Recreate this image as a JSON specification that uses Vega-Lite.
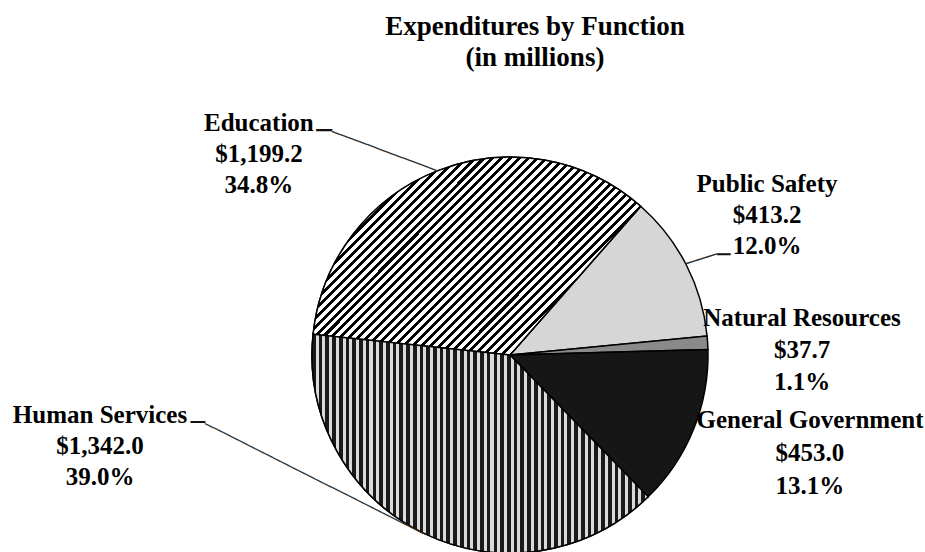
{
  "$schema": "https://vega.github.io/schema/vega-lite/v6.json",
  "autosize": {"type": "none"},
  "padding": {"left": 95, "top": 158, "right": 0, "bottom": 0},
  "width": 830,
  "height": 394,
  "background": "#ffffff",
  "config": {"view": {"stroke": null}},
  "title": {
    "text": ["Expenditures by Function", "(in millions)"],
    "font": "Liberation Serif",
    "fontSize": 27,
    "fontWeight": "bold",
    "lineHeight": 31,
    "color": "#000000",
    "anchor": "middle",
    "frame": "group",
    "dx": 25,
    "offset": 39
  },
  "data": {
    "values": [
      {"category": "Public Safety", "amount": 413.2},
      {"category": "Natural Resources", "amount": 37.7},
      {"category": "General Government", "amount": 453.0},
      {"category": "Human Services", "amount": 1342.0},
      {"category": "Education", "amount": 1199.2}
    ]
  },
  "transform": [
    {"window": [{"op": "row_number", "as": "idx"}]},
    {"joinaggregate": [{"op": "sum", "field": "amount", "as": "total"}]},
    {"stack": "amount", "groupby": [], "sort": [{"field": "idx", "order": "ascending"}], "as": ["s0", "s1"]},
    {"calculate": "(datum.s0 + datum.s1) / 2", "as": "mid"},
    {"calculate": "datum.category + '\\n$' + format(datum.amount, ',.1f') + '\\n' + format(100 * datum.amount / datum.total, '.1f') + '%'", "as": "label"}
  ],
  "layer": [
    {
      "mark": {"type": "arc", "radius": 198, "stroke": "#000000", "strokeWidth": 1.5},
      "encoding": {
        "theta": {"field": "s0", "type": "quantitative", "stack": null, "scale": {"domain": [0, 3445.1], "range": [0.72082, 7.004], "nice": false}},
        "theta2": {"field": "s1"},
        "fill": {
          "field": "category", "type": "nominal", "legend": null,
          "scale": {
            "domain": ["Public Safety", "Natural Resources", "General Government", "Human Services", "Education"],
            "range": ["#d6d6d6", "#8a8a8a", "#161616", "#6e6e6e", "#8c8c8c"]
          }
        }
      }
    },
    {
      "transform": [{"filter": "datum.category === 'Education'"}],
      "mark": {
        "type": "arc", "radius": 198, "stroke": "#000000", "strokeWidth": 1.5,
        "fill": {
          "gradient": "linear", "x1": 0, "y1": 0, "x2": 1, "y2": 0.604,
          "stops": [
{"offset":0,"color":"#000"},{"offset":0.009,"color":"#000"},{"offset":0.009,"color":"#fff"},{"offset":0.02,"color":"#fff"},
{"offset":0.02,"color":"#000"},{"offset":0.029,"color":"#000"},{"offset":0.029,"color":"#fff"},{"offset":0.04,"color":"#fff"},
{"offset":0.04,"color":"#000"},{"offset":0.049,"color":"#000"},{"offset":0.049,"color":"#fff"},{"offset":0.06,"color":"#fff"},
{"offset":0.06,"color":"#000"},{"offset":0.069,"color":"#000"},{"offset":0.069,"color":"#fff"},{"offset":0.08,"color":"#fff"},
{"offset":0.08,"color":"#000"},{"offset":0.089,"color":"#000"},{"offset":0.089,"color":"#fff"},{"offset":0.1,"color":"#fff"},
{"offset":0.1,"color":"#000"},{"offset":0.109,"color":"#000"},{"offset":0.109,"color":"#fff"},{"offset":0.12,"color":"#fff"},
{"offset":0.12,"color":"#000"},{"offset":0.129,"color":"#000"},{"offset":0.129,"color":"#fff"},{"offset":0.14,"color":"#fff"},
{"offset":0.14,"color":"#000"},{"offset":0.149,"color":"#000"},{"offset":0.149,"color":"#fff"},{"offset":0.16,"color":"#fff"},
{"offset":0.16,"color":"#000"},{"offset":0.169,"color":"#000"},{"offset":0.169,"color":"#fff"},{"offset":0.18,"color":"#fff"},
{"offset":0.18,"color":"#000"},{"offset":0.189,"color":"#000"},{"offset":0.189,"color":"#fff"},{"offset":0.2,"color":"#fff"},
{"offset":0.2,"color":"#000"},{"offset":0.209,"color":"#000"},{"offset":0.209,"color":"#fff"},{"offset":0.22,"color":"#fff"},
{"offset":0.22,"color":"#000"},{"offset":0.229,"color":"#000"},{"offset":0.229,"color":"#fff"},{"offset":0.24,"color":"#fff"},
{"offset":0.24,"color":"#000"},{"offset":0.249,"color":"#000"},{"offset":0.249,"color":"#fff"},{"offset":0.26,"color":"#fff"},
{"offset":0.26,"color":"#000"},{"offset":0.269,"color":"#000"},{"offset":0.269,"color":"#fff"},{"offset":0.28,"color":"#fff"},
{"offset":0.28,"color":"#000"},{"offset":0.289,"color":"#000"},{"offset":0.289,"color":"#fff"},{"offset":0.3,"color":"#fff"},
{"offset":0.3,"color":"#000"},{"offset":0.309,"color":"#000"},{"offset":0.309,"color":"#fff"},{"offset":0.32,"color":"#fff"},
{"offset":0.32,"color":"#000"},{"offset":0.329,"color":"#000"},{"offset":0.329,"color":"#fff"},{"offset":0.34,"color":"#fff"},
{"offset":0.34,"color":"#000"},{"offset":0.349,"color":"#000"},{"offset":0.349,"color":"#fff"},{"offset":0.36,"color":"#fff"},
{"offset":0.36,"color":"#000"},{"offset":0.369,"color":"#000"},{"offset":0.369,"color":"#fff"},{"offset":0.38,"color":"#fff"},
{"offset":0.38,"color":"#000"},{"offset":0.389,"color":"#000"},{"offset":0.389,"color":"#fff"},{"offset":0.4,"color":"#fff"},
{"offset":0.4,"color":"#000"},{"offset":0.409,"color":"#000"},{"offset":0.409,"color":"#fff"},{"offset":0.42,"color":"#fff"},
{"offset":0.42,"color":"#000"},{"offset":0.429,"color":"#000"},{"offset":0.429,"color":"#fff"},{"offset":0.44,"color":"#fff"},
{"offset":0.44,"color":"#000"},{"offset":0.449,"color":"#000"},{"offset":0.449,"color":"#fff"},{"offset":0.46,"color":"#fff"},
{"offset":0.46,"color":"#000"},{"offset":0.469,"color":"#000"},{"offset":0.469,"color":"#fff"},{"offset":0.48,"color":"#fff"},
{"offset":0.48,"color":"#000"},{"offset":0.489,"color":"#000"},{"offset":0.489,"color":"#fff"},{"offset":0.5,"color":"#fff"},
{"offset":0.5,"color":"#000"},{"offset":0.509,"color":"#000"},{"offset":0.509,"color":"#fff"},{"offset":0.52,"color":"#fff"},
{"offset":0.52,"color":"#000"},{"offset":0.529,"color":"#000"},{"offset":0.529,"color":"#fff"},{"offset":0.54,"color":"#fff"},
{"offset":0.54,"color":"#000"},{"offset":0.549,"color":"#000"},{"offset":0.549,"color":"#fff"},{"offset":0.56,"color":"#fff"},
{"offset":0.56,"color":"#000"},{"offset":0.569,"color":"#000"},{"offset":0.569,"color":"#fff"},{"offset":0.58,"color":"#fff"},
{"offset":0.58,"color":"#000"},{"offset":0.589,"color":"#000"},{"offset":0.589,"color":"#fff"},{"offset":0.6,"color":"#fff"},
{"offset":0.6,"color":"#000"},{"offset":0.609,"color":"#000"},{"offset":0.609,"color":"#fff"},{"offset":0.62,"color":"#fff"},
{"offset":0.62,"color":"#000"},{"offset":0.629,"color":"#000"},{"offset":0.629,"color":"#fff"},{"offset":0.64,"color":"#fff"},
{"offset":0.64,"color":"#000"},{"offset":0.649,"color":"#000"},{"offset":0.649,"color":"#fff"},{"offset":0.66,"color":"#fff"},
{"offset":0.66,"color":"#000"},{"offset":0.669,"color":"#000"},{"offset":0.669,"color":"#fff"},{"offset":0.68,"color":"#fff"},
{"offset":0.68,"color":"#000"},{"offset":0.689,"color":"#000"},{"offset":0.689,"color":"#fff"},{"offset":0.7,"color":"#fff"},
{"offset":0.7,"color":"#000"},{"offset":0.709,"color":"#000"},{"offset":0.709,"color":"#fff"},{"offset":0.72,"color":"#fff"},
{"offset":0.72,"color":"#000"},{"offset":0.729,"color":"#000"},{"offset":0.729,"color":"#fff"},{"offset":0.74,"color":"#fff"},
{"offset":0.74,"color":"#000"},{"offset":0.749,"color":"#000"},{"offset":0.749,"color":"#fff"},{"offset":0.76,"color":"#fff"},
{"offset":0.76,"color":"#000"},{"offset":0.769,"color":"#000"},{"offset":0.769,"color":"#fff"},{"offset":0.78,"color":"#fff"},
{"offset":0.78,"color":"#000"},{"offset":0.789,"color":"#000"},{"offset":0.789,"color":"#fff"},{"offset":0.8,"color":"#fff"},
{"offset":0.8,"color":"#000"},{"offset":0.809,"color":"#000"},{"offset":0.809,"color":"#fff"},{"offset":0.82,"color":"#fff"},
{"offset":0.82,"color":"#000"},{"offset":0.829,"color":"#000"},{"offset":0.829,"color":"#fff"},{"offset":0.84,"color":"#fff"},
{"offset":0.84,"color":"#000"},{"offset":0.849,"color":"#000"},{"offset":0.849,"color":"#fff"},{"offset":0.86,"color":"#fff"},
{"offset":0.86,"color":"#000"},{"offset":0.869,"color":"#000"},{"offset":0.869,"color":"#fff"},{"offset":0.88,"color":"#fff"},
{"offset":0.88,"color":"#000"},{"offset":0.889,"color":"#000"},{"offset":0.889,"color":"#fff"},{"offset":0.9,"color":"#fff"},
{"offset":0.9,"color":"#000"},{"offset":0.909,"color":"#000"},{"offset":0.909,"color":"#fff"},{"offset":0.92,"color":"#fff"},
{"offset":0.92,"color":"#000"},{"offset":0.929,"color":"#000"},{"offset":0.929,"color":"#fff"},{"offset":0.94,"color":"#fff"},
{"offset":0.94,"color":"#000"},{"offset":0.949,"color":"#000"},{"offset":0.949,"color":"#fff"},{"offset":0.96,"color":"#fff"},
{"offset":0.96,"color":"#000"},{"offset":0.969,"color":"#000"},{"offset":0.969,"color":"#fff"},{"offset":0.98,"color":"#fff"},
{"offset":0.98,"color":"#000"},{"offset":0.989,"color":"#000"},{"offset":0.989,"color":"#fff"},{"offset":1,"color":"#fff"}
          ]
        }
      },
      "encoding": {
        "theta": {"field": "s0", "type": "quantitative", "stack": null, "scale": {"domain": [0, 3445.1], "range": [0.72082, 7.004], "nice": false}},
        "theta2": {"field": "s1"}
      }
    },
    {
      "transform": [{"filter": "datum.category === 'Human Services'"}],
      "mark": {
        "type": "arc", "radius": 198, "stroke": "#000000", "strokeWidth": 1.5,
        "fill": {
          "gradient": "linear", "x1": 0, "y1": 0, "x2": 1, "y2": 0,
          "stops": [
{"offset":0,"color":"#1a1a1a"},{"offset":0.011,"color":"#1a1a1a"},{"offset":0.011,"color":"#dadada"},{"offset":0.02,"color":"#dadada"},
{"offset":0.02,"color":"#1a1a1a"},{"offset":0.031,"color":"#1a1a1a"},{"offset":0.031,"color":"#dadada"},{"offset":0.04,"color":"#dadada"},
{"offset":0.04,"color":"#1a1a1a"},{"offset":0.051,"color":"#1a1a1a"},{"offset":0.051,"color":"#dadada"},{"offset":0.06,"color":"#dadada"},
{"offset":0.06,"color":"#1a1a1a"},{"offset":0.071,"color":"#1a1a1a"},{"offset":0.071,"color":"#dadada"},{"offset":0.08,"color":"#dadada"},
{"offset":0.08,"color":"#1a1a1a"},{"offset":0.091,"color":"#1a1a1a"},{"offset":0.091,"color":"#dadada"},{"offset":0.1,"color":"#dadada"},
{"offset":0.1,"color":"#1a1a1a"},{"offset":0.111,"color":"#1a1a1a"},{"offset":0.111,"color":"#dadada"},{"offset":0.12,"color":"#dadada"},
{"offset":0.12,"color":"#1a1a1a"},{"offset":0.131,"color":"#1a1a1a"},{"offset":0.131,"color":"#dadada"},{"offset":0.14,"color":"#dadada"},
{"offset":0.14,"color":"#1a1a1a"},{"offset":0.151,"color":"#1a1a1a"},{"offset":0.151,"color":"#dadada"},{"offset":0.16,"color":"#dadada"},
{"offset":0.16,"color":"#1a1a1a"},{"offset":0.171,"color":"#1a1a1a"},{"offset":0.171,"color":"#dadada"},{"offset":0.18,"color":"#dadada"},
{"offset":0.18,"color":"#1a1a1a"},{"offset":0.191,"color":"#1a1a1a"},{"offset":0.191,"color":"#dadada"},{"offset":0.2,"color":"#dadada"},
{"offset":0.2,"color":"#1a1a1a"},{"offset":0.211,"color":"#1a1a1a"},{"offset":0.211,"color":"#dadada"},{"offset":0.22,"color":"#dadada"},
{"offset":0.22,"color":"#1a1a1a"},{"offset":0.231,"color":"#1a1a1a"},{"offset":0.231,"color":"#dadada"},{"offset":0.24,"color":"#dadada"},
{"offset":0.24,"color":"#1a1a1a"},{"offset":0.251,"color":"#1a1a1a"},{"offset":0.251,"color":"#dadada"},{"offset":0.26,"color":"#dadada"},
{"offset":0.26,"color":"#1a1a1a"},{"offset":0.271,"color":"#1a1a1a"},{"offset":0.271,"color":"#dadada"},{"offset":0.28,"color":"#dadada"},
{"offset":0.28,"color":"#1a1a1a"},{"offset":0.291,"color":"#1a1a1a"},{"offset":0.291,"color":"#dadada"},{"offset":0.3,"color":"#dadada"},
{"offset":0.3,"color":"#1a1a1a"},{"offset":0.311,"color":"#1a1a1a"},{"offset":0.311,"color":"#dadada"},{"offset":0.32,"color":"#dadada"},
{"offset":0.32,"color":"#1a1a1a"},{"offset":0.331,"color":"#1a1a1a"},{"offset":0.331,"color":"#dadada"},{"offset":0.34,"color":"#dadada"},
{"offset":0.34,"color":"#1a1a1a"},{"offset":0.351,"color":"#1a1a1a"},{"offset":0.351,"color":"#dadada"},{"offset":0.36,"color":"#dadada"},
{"offset":0.36,"color":"#1a1a1a"},{"offset":0.371,"color":"#1a1a1a"},{"offset":0.371,"color":"#dadada"},{"offset":0.38,"color":"#dadada"},
{"offset":0.38,"color":"#1a1a1a"},{"offset":0.391,"color":"#1a1a1a"},{"offset":0.391,"color":"#dadada"},{"offset":0.4,"color":"#dadada"},
{"offset":0.4,"color":"#1a1a1a"},{"offset":0.411,"color":"#1a1a1a"},{"offset":0.411,"color":"#dadada"},{"offset":0.42,"color":"#dadada"},
{"offset":0.42,"color":"#1a1a1a"},{"offset":0.431,"color":"#1a1a1a"},{"offset":0.431,"color":"#dadada"},{"offset":0.44,"color":"#dadada"},
{"offset":0.44,"color":"#1a1a1a"},{"offset":0.451,"color":"#1a1a1a"},{"offset":0.451,"color":"#dadada"},{"offset":0.46,"color":"#dadada"},
{"offset":0.46,"color":"#1a1a1a"},{"offset":0.471,"color":"#1a1a1a"},{"offset":0.471,"color":"#dadada"},{"offset":0.48,"color":"#dadada"},
{"offset":0.48,"color":"#1a1a1a"},{"offset":0.491,"color":"#1a1a1a"},{"offset":0.491,"color":"#dadada"},{"offset":0.5,"color":"#dadada"},
{"offset":0.5,"color":"#1a1a1a"},{"offset":0.511,"color":"#1a1a1a"},{"offset":0.511,"color":"#dadada"},{"offset":0.52,"color":"#dadada"},
{"offset":0.52,"color":"#1a1a1a"},{"offset":0.531,"color":"#1a1a1a"},{"offset":0.531,"color":"#dadada"},{"offset":0.54,"color":"#dadada"},
{"offset":0.54,"color":"#1a1a1a"},{"offset":0.551,"color":"#1a1a1a"},{"offset":0.551,"color":"#dadada"},{"offset":0.56,"color":"#dadada"},
{"offset":0.56,"color":"#1a1a1a"},{"offset":0.571,"color":"#1a1a1a"},{"offset":0.571,"color":"#dadada"},{"offset":0.58,"color":"#dadada"},
{"offset":0.58,"color":"#1a1a1a"},{"offset":0.591,"color":"#1a1a1a"},{"offset":0.591,"color":"#dadada"},{"offset":0.6,"color":"#dadada"},
{"offset":0.6,"color":"#1a1a1a"},{"offset":0.611,"color":"#1a1a1a"},{"offset":0.611,"color":"#dadada"},{"offset":0.62,"color":"#dadada"},
{"offset":0.62,"color":"#1a1a1a"},{"offset":0.631,"color":"#1a1a1a"},{"offset":0.631,"color":"#dadada"},{"offset":0.64,"color":"#dadada"},
{"offset":0.64,"color":"#1a1a1a"},{"offset":0.651,"color":"#1a1a1a"},{"offset":0.651,"color":"#dadada"},{"offset":0.66,"color":"#dadada"},
{"offset":0.66,"color":"#1a1a1a"},{"offset":0.671,"color":"#1a1a1a"},{"offset":0.671,"color":"#dadada"},{"offset":0.68,"color":"#dadada"},
{"offset":0.68,"color":"#1a1a1a"},{"offset":0.691,"color":"#1a1a1a"},{"offset":0.691,"color":"#dadada"},{"offset":0.7,"color":"#dadada"},
{"offset":0.7,"color":"#1a1a1a"},{"offset":0.711,"color":"#1a1a1a"},{"offset":0.711,"color":"#dadada"},{"offset":0.72,"color":"#dadada"},
{"offset":0.72,"color":"#1a1a1a"},{"offset":0.731,"color":"#1a1a1a"},{"offset":0.731,"color":"#dadada"},{"offset":0.74,"color":"#dadada"},
{"offset":0.74,"color":"#1a1a1a"},{"offset":0.751,"color":"#1a1a1a"},{"offset":0.751,"color":"#dadada"},{"offset":0.76,"color":"#dadada"},
{"offset":0.76,"color":"#1a1a1a"},{"offset":0.771,"color":"#1a1a1a"},{"offset":0.771,"color":"#dadada"},{"offset":0.78,"color":"#dadada"},
{"offset":0.78,"color":"#1a1a1a"},{"offset":0.791,"color":"#1a1a1a"},{"offset":0.791,"color":"#dadada"},{"offset":0.8,"color":"#dadada"},
{"offset":0.8,"color":"#1a1a1a"},{"offset":0.811,"color":"#1a1a1a"},{"offset":0.811,"color":"#dadada"},{"offset":0.82,"color":"#dadada"},
{"offset":0.82,"color":"#1a1a1a"},{"offset":0.831,"color":"#1a1a1a"},{"offset":0.831,"color":"#dadada"},{"offset":0.84,"color":"#dadada"},
{"offset":0.84,"color":"#1a1a1a"},{"offset":0.851,"color":"#1a1a1a"},{"offset":0.851,"color":"#dadada"},{"offset":0.86,"color":"#dadada"},
{"offset":0.86,"color":"#1a1a1a"},{"offset":0.871,"color":"#1a1a1a"},{"offset":0.871,"color":"#dadada"},{"offset":0.88,"color":"#dadada"},
{"offset":0.88,"color":"#1a1a1a"},{"offset":0.891,"color":"#1a1a1a"},{"offset":0.891,"color":"#dadada"},{"offset":0.9,"color":"#dadada"},
{"offset":0.9,"color":"#1a1a1a"},{"offset":0.911,"color":"#1a1a1a"},{"offset":0.911,"color":"#dadada"},{"offset":0.92,"color":"#dadada"},
{"offset":0.92,"color":"#1a1a1a"},{"offset":0.931,"color":"#1a1a1a"},{"offset":0.931,"color":"#dadada"},{"offset":0.94,"color":"#dadada"},
{"offset":0.94,"color":"#1a1a1a"},{"offset":0.951,"color":"#1a1a1a"},{"offset":0.951,"color":"#dadada"},{"offset":0.96,"color":"#dadada"},
{"offset":0.96,"color":"#1a1a1a"},{"offset":0.971,"color":"#1a1a1a"},{"offset":0.971,"color":"#dadada"},{"offset":0.98,"color":"#dadada"},
{"offset":0.98,"color":"#1a1a1a"},{"offset":0.991,"color":"#1a1a1a"},{"offset":0.991,"color":"#dadada"},{"offset":1,"color":"#dadada"}
          ]
        }
      },
      "encoding": {
        "theta": {"field": "s0", "type": "quantitative", "stack": null, "scale": {"domain": [0, 3445.1], "range": [0.72082, 7.004], "nice": false}},
        "theta2": {"field": "s1"}
      }
    },
    {
      "transform": [{"filter": "datum.category === 'Education'"}],
      "mark": {"type": "text", "radius": 198, "dx": -179, "dy": -39.6, "align": "center", "baseline": "alphabetic", "font": "Liberation Serif", "fontSize": 25, "fontWeight": "bold", "lineHeight": 31, "lineBreak": "\n", "fill": "#000000"},
      "encoding": {
        "theta": {"field": "mid", "type": "quantitative", "stack": null, "scale": {"domain": [0, 3445.1], "range": [0.72082, 7.004], "nice": false}},
        "text": {"field": "label", "type": "nominal"}
      }
    },
    {
      "transform": [{"filter": "datum.category === 'Public Safety'"}],
      "mark": {"type": "text", "radius": 198, "dx": 80.8, "dy": -72.8, "align": "center", "baseline": "alphabetic", "font": "Liberation Serif", "fontSize": 25, "fontWeight": "bold", "lineHeight": 31, "lineBreak": "\n", "fill": "#000000"},
      "encoding": {
        "theta": {"field": "mid", "type": "quantitative", "stack": null, "scale": {"domain": [0, 3445.1], "range": [0.72082, 7.004], "nice": false}},
        "text": {"field": "label", "type": "nominal"}
      }
    },
    {
      "transform": [{"filter": "datum.category === 'Natural Resources'"}],
      "mark": {"type": "text", "radius": 198, "dx": 94.4, "dy": -16.7, "align": "center", "baseline": "alphabetic", "font": "Liberation Serif", "fontSize": 25, "fontWeight": "bold", "lineHeight": 32, "lineBreak": "\n", "fill": "#000000"},
      "encoding": {
        "theta": {"field": "mid", "type": "quantitative", "stack": null, "scale": {"domain": [0, 3445.1], "range": [0.72082, 7.004], "nice": false}},
        "text": {"field": "label", "type": "nominal"}
      }
    },
    {
      "transform": [{"filter": "datum.category === 'General Government'"}],
      "mark": {"type": "text", "radius": 198, "dx": 116.5, "dy": -1.4, "align": "center", "baseline": "alphabetic", "font": "Liberation Serif", "fontSize": 25, "fontWeight": "bold", "lineHeight": 33, "lineBreak": "\n", "fill": "#000000"},
      "encoding": {
        "theta": {"field": "mid", "type": "quantitative", "stack": null, "scale": {"domain": [0, 3445.1], "range": [0.72082, 7.004], "nice": false}},
        "text": {"field": "label", "type": "nominal"}
      }
    },
    {
      "transform": [{"filter": "datum.category === 'Human Services'"}],
      "mark": {"type": "text", "radius": 198, "dx": -323.6, "dy": -110.2, "align": "center", "baseline": "alphabetic", "font": "Liberation Serif", "fontSize": 25, "fontWeight": "bold", "lineHeight": 31, "lineBreak": "\n", "fill": "#000000"},
      "encoding": {
        "theta": {"field": "mid", "type": "quantitative", "stack": null, "scale": {"domain": [0, 3445.1], "range": [0.72082, 7.004], "nice": false}},
        "text": {"field": "label", "type": "nominal"}
      }
    },
    {
      "transform": [{"filter": "datum.category === 'Education'"}],
      "mark": {"type": "text", "radius": 198, "angle": 200.5, "align": "left", "baseline": "middle", "font": "DejaVu Sans Mono", "fontSize": 15.65, "fill": "#333333", "text": "────────────"},
      "encoding": {
        "theta": {"field": "mid", "type": "quantitative", "stack": null, "scale": {"domain": [0, 3445.1], "range": [0.72082, 7.004], "nice": false}}
      }
    },
    {
      "transform": [{"filter": "datum.category === 'Public Safety'"}],
      "mark": {"type": "text", "radius": 198, "angle": 342.4, "align": "left", "baseline": "middle", "font": "DejaVu Sans Mono", "fontSize": 17.86, "fill": "#333333", "text": "───"},
      "encoding": {
        "theta": {"field": "mid", "type": "quantitative", "stack": null, "scale": {"domain": [0, 3445.1], "range": [0.72082, 7.004], "nice": false}}
      }
    },
    {
      "transform": [{"filter": "datum.category === 'Human Services'"}],
      "mark": {"type": "text", "radius": 198, "angle": 206.74, "align": "left", "baseline": "middle", "font": "DejaVu Sans Mono", "fontSize": 15.64, "fill": "#333333", "text": "──────────────────────────"},
      "encoding": {
        "theta": {"field": "mid", "type": "quantitative", "stack": null, "scale": {"domain": [0, 3445.1], "range": [0.72082, 7.004], "nice": false}}
      }
    },
    {
      "transform": [{"filter": "datum.category === 'Education'"}],
      "mark": {"type": "text", "radius": 198, "dx": -105.9, "dy": -39.6, "align": "right", "baseline": "middle", "font": "DejaVu Sans Mono", "fontSize": 26, "fill": "#111111", "text": "─"},
      "encoding": {
        "theta": {"field": "mid", "type": "quantitative", "stack": null, "scale": {"domain": [0, 3445.1], "range": [0.72082, 7.004], "nice": false}}
      }
    },
    {
      "transform": [{"filter": "datum.category === 'Public Safety'"}],
      "mark": {"type": "text", "radius": 198, "dx": 30.8, "dy": -9.8, "align": "left", "baseline": "middle", "font": "DejaVu Sans Mono", "fontSize": 22, "fill": "#111111", "text": "─"},
      "encoding": {
        "theta": {"field": "mid", "type": "quantitative", "stack": null, "scale": {"domain": [0, 3445.1], "range": [0.72082, 7.004], "nice": false}}
      }
    },
    {
      "transform": [{"filter": "datum.category === 'Human Services'"}],
      "mark": {"type": "text", "radius": 198, "dx": -218.6, "dy": -110.2, "align": "right", "baseline": "middle", "font": "DejaVu Sans Mono", "fontSize": 24, "fill": "#111111", "text": "─"},
      "encoding": {
        "theta": {"field": "mid", "type": "quantitative", "stack": null, "scale": {"domain": [0, 3445.1], "range": [0.72082, 7.004], "nice": false}}
      }
    }
  ]
}
